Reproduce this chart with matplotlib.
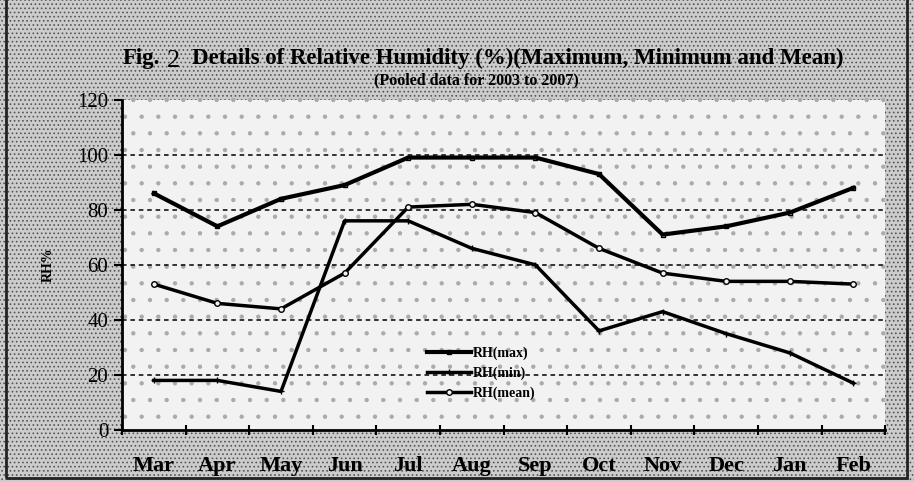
import numpy as np
import matplotlib.pyplot as plt
from matplotlib.patches import Rectangle

months = ['Mar', 'Apr', 'May', 'Jun', 'Jul', 'Aug', 'Sep', 'Oct', 'Nov', 'Dec', 'Jan', 'Feb']
rh_max = [86, 74, 84, 89, 99, 99, 99, 93, 71, 74, 79, 88]
rh_min = [18, 18, 14, 76, 76, 66, 60, 36, 43, 35, 28, 17]
rh_mean = [53, 46, 44, 57, 81, 82, 79, 66, 57, 54, 54, 53]
yticks = [0, 20, 40, 60, 80, 100, 120]

plt.rcParams['font.family'] = ['Liberation Serif', 'DejaVu Serif']
plt.rcParams['hatch.color'] = '#444444'
plt.rcParams['hatch.linewidth'] = 0.7

fig = plt.figure(figsize=(9.14, 4.82), dpi=100)
fig.patch.set_facecolor('#c9c9c9')
# stippled background of the scanned figure
fig.patches.append(Rectangle((0, 0), 1, 1, transform=fig.transFigure, facecolor='#cccccc',
                             hatch='....', edgecolor='#555555', linewidth=0, zorder=-10))
# outer frame
fig.patches.append(Rectangle((0.007, 0.008), 0.985, 1.2, transform=fig.transFigure, fill=False,
                             edgecolor='#222222', linewidth=2, zorder=-5))

ax = fig.add_axes([0.1335, 0.108, 0.835, 0.685])
ax.set_facecolor('#f2f2f2')
ax.add_patch(Rectangle((0, 0), 1, 1.02, transform=ax.transAxes, facecolor='none', hatch='.',
                       edgecolor='#aaaaaa', linewidth=0, zorder=0, clip_on=False))

x = np.arange(len(months))
ax.plot(x, rh_max, color='black', lw=3, marker='s', ms=3, mfc='none', label='RH(max)', zorder=3)
ax.plot(x, rh_min, color='black', lw=2.5, marker='+', ms=4, label='RH(min)', zorder=3)
ax.plot(x, rh_mean, color='black', lw=2.5, marker='o', ms=4, mfc='#f2f2f2', label='RH(mean)', zorder=3)

ax.set_xlim(-0.5, len(months) - 0.5)
ax.set_ylim(0, 120)
ax.set_yticks(yticks)
ax.set_yticklabels([str(v) for v in yticks], fontsize=15)
for v in yticks[1:-1]:
    ax.axhline(v, color='black', lw=1.1, ls=(0, (3, 2.5)), zorder=1)

ax.set_xticks(np.arange(len(months) + 1) - 0.5)
ax.set_xticklabels([])
ax.set_xticks(x, minor=True)
ax.set_xticklabels(months, minor=True, fontsize=16, fontweight='bold')
ax.tick_params(axis='x', which='major', direction='inout', length=7, width=1.5)
ax.tick_params(axis='x', which='minor', length=0, pad=19)
ax.tick_params(axis='y', direction='out', length=6, width=1.5, pad=4)

for s in ['top', 'right']:
    ax.spines[s].set_visible(False)
for s in ['left', 'bottom']:
    ax.spines[s].set_linewidth(2)

ax.set_ylabel('RH%', fontsize=10, fontweight='bold', labelpad=16)

fig.text(0.134, 0.878, 'Fig.', fontsize=16.5, fontweight='bold', ha='left', va='center')
fig.text(0.183, 0.874, '2', fontsize=19, ha='left', va='center')
fig.text(0.21, 0.878, 'Details of Relative Humidity (%)(Maximum, Minimum and Mean)',
         fontsize=16.5, fontweight='bold', ha='left', va='center')
fig.text(0.521, 0.834, '(Pooled data for 2003 to 2007)', fontsize=11.5, fontweight='bold',
         ha='center', va='center')

leg = ax.legend(loc='upper left', bbox_to_anchor=(0.39, 0.275), frameon=False, fontsize=10,
                handlelength=3.2, handletextpad=0.1, labelspacing=0.5, borderpad=0)
for t in leg.get_texts():
    t.set_fontweight('bold')

fig.savefig('out.png', dpi=100, facecolor=fig.get_facecolor())
